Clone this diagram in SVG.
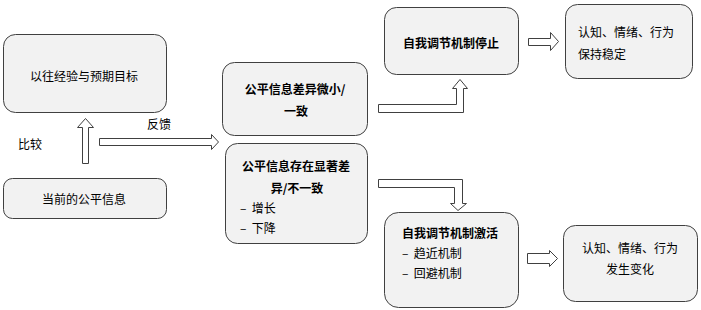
<svg xmlns="http://www.w3.org/2000/svg" width="701" height="310" viewBox="0 0 701 310">
<style>
.box{fill:#f2f2f2;stroke:#404040;stroke-width:1}
.arr{fill:#ffffff;stroke:#404040;stroke-width:1}
text{font-family:"Noto Sans CJK SC","Liberation Sans",sans-serif;font-size:12px;fill:#000;dominant-baseline:central}
.b{font-weight:bold}
.c{text-anchor:middle}
</style>
<rect width="701" height="310" fill="#ffffff"/>
<g id="n1"><rect class="box" x="3.5" y="34.5" width="163" height="78" rx="12"/><text class="c" x="84" y="75">以往经验与预期目标</text></g>
<g id="n2"><rect class="box" x="3.5" y="178.5" width="163" height="40" rx="9"/><text class="c" x="84" y="198">当前的公平信息</text></g>
<g id="n3"><rect class="box" x="222.5" y="62.5" width="145" height="73" rx="12"/><text class="c b" x="295" y="88">公平信息差异微小/</text><text class="c b" x="296" y="110">一致</text></g>
<g id="n4"><rect class="box" x="225.5" y="143.5" width="142" height="100" rx="12"/><text class="c b" x="296" y="165">公平信息存在显著差</text><text class="c b" x="297" y="187">异/不一致</text><text x="240" y="207" xml:space="preserve">–  增长</text><text x="240" y="227" xml:space="preserve">–  下降</text></g>
<g id="n5"><rect class="box" x="384.5" y="7.5" width="134" height="67" rx="12"/><text class="c b" x="451" y="42">自我调节机制停止</text></g>
<g id="n6"><rect class="box" x="565.5" y="4.5" width="127" height="74" rx="12"/><text x="578" y="31">认知、情绪、行为</text><text x="578" y="53">保持稳定</text></g>
<g id="n7"><rect class="box" x="384.5" y="212.5" width="134" height="95" rx="14"/><text class="b" x="402" y="232">自我调节机制激活</text><text x="402" y="252" xml:space="preserve">–  趋近机制</text><text x="402" y="272" xml:space="preserve">–  回避机制</text></g>
<g id="n8"><rect class="box" x="563.5" y="225.5" width="134" height="76" rx="12"/><text class="c" x="630" y="247">认知、情绪、行为</text><text class="c" x="630" y="268">发生变化</text></g>
<g id="labels"><text x="18" y="143">比较</text><text x="147" y="123">反馈</text></g>
<g id="connectors">
<path class="arr" d="M82.5,163.5 V127.5 H77.5 L85.5,118.5 L93.5,127.5 H88.5 V163.5 Z"/>
<path class="arr" d="M99.5,138.5 H211.5 V134.5 L218.5,142 L211.5,149.5 V145.5 H99.5 Z"/>
<path class="arr" d="M378.5,104.5 H456.5 V88.5 H452.5 L460,79.5 L467.5,88.5 H463.5 V112.5 H378.5 Z"/>
<path class="arr" d="M378.5,179.5 H462.5 V203.5 H466.5 L458,210.5 L450.5,203.5 H454.5 V187.5 H378.5 Z"/>
<path class="arr" d="M528.5,38.5 H550.5 V32.5 L558.5,41.5 L550.5,50.5 V45.5 H528.5 Z"/>
<path class="arr" d="M527.5,253.5 H549.5 V250.5 L557.5,258.5 L549.5,266.5 V263.5 H527.5 Z"/>
</g>
</svg>
